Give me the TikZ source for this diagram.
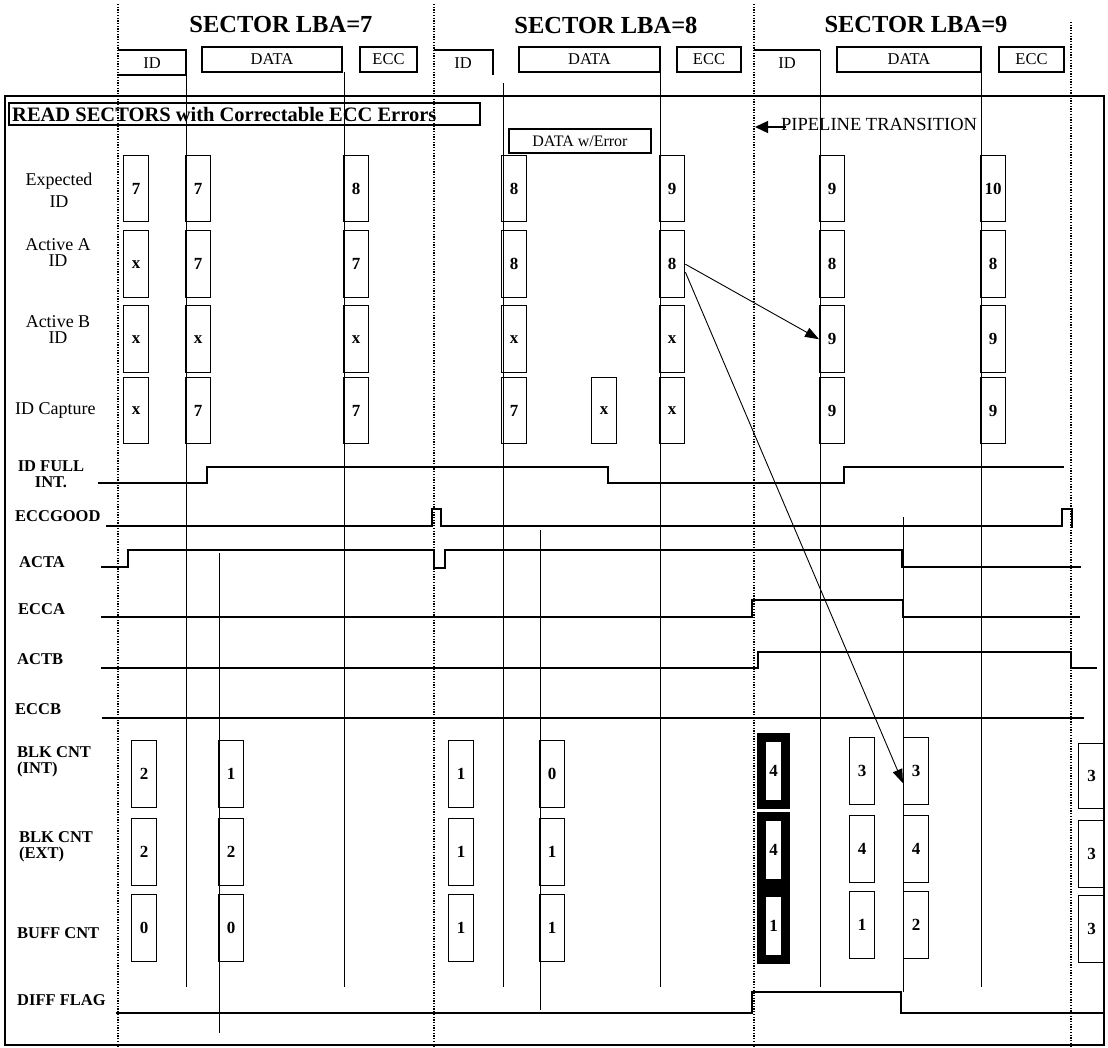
\documentclass[tikz,border=0pt]{standalone}
\usepackage{fontspec}
\setmainfont{Liberation Serif}
\usetikzlibrary{arrows.meta}
\begin{document}
\begin{tikzpicture}[x=1pt,y=-1pt,
  dotv/.style={line width=1.1pt, dash pattern=on 1.3pt off 1.4pt},
  vl/.style={line width=0.9pt},
  sig/.style={line width=1.4pt},
  sigthick/.style={line width=2.4pt},
  hdrbox/.style={line width=1.3pt},
  hdrtxt/.style={font=\fontsize{16.5}{16.5}\selectfont, inner sep=0pt},
  hdrrect/.style={draw, line width=1.3pt, minimum height=25pt, inner sep=0pt, font=\fontsize{16.5}{16.5}\selectfont},
  vbox/.style={draw, line width=1.4pt, minimum width=25pt, minimum height=66pt, inner sep=0pt, anchor=north west, font=\bfseries\fontsize{17}{17}\selectfont},
  hbox/.style={draw, line width=9pt, minimum width=24pt, minimum height=67pt, inner sep=0pt, anchor=center, font=\bfseries\fontsize{17}{17}\selectfont},
  lab/.style={font=\fontsize{18}{16}\selectfont, align=center, inner sep=0pt},
  blab/.style={font=\bfseries\fontsize{16.5}{16.5}\selectfont, align=left, inner sep=0pt, anchor=west},
  arr/.style={line width=0.9pt, -{Triangle[length=14pt,width=10pt]}}
]
\useasboundingbox (0,0) rectangle (1108,1047);

% frame
\draw[line width=1.5pt] (5,96) rectangle (1104,1045);

% sector boundaries (dotted)
\draw[dotv] (118,4) -- (118,1047);
\draw[dotv] (434,4) -- (434,1047);
\draw[dotv] (754,4) -- (754,1047);
\draw[dotv] (1071,22) -- (1071,1047);

% sector titles
\node[font=\bfseries\fontsize{24.5}{24.5}\selectfont, inner sep=0pt] (s7) at (281,25) {SECTOR LBA=7};
\node[font=\bfseries\fontsize{24.5}{24.5}\selectfont, inner sep=0pt] (s8) at (606,25) {SECTOR LBA=8};
\node[font=\bfseries\fontsize{24.5}{24.5}\selectfont, inner sep=0pt] (s9) at (916,25) {SECTOR LBA=9};

% header fields
\draw[hdrbox] (118,50) -- (186,50) -- (186,75) -- (118,75);
\node[hdrtxt] (hid7) at (152,63) {ID};
\node[hdrrect, minimum width=140pt] (hd7) at (272,59.5) {DATA};
\node[hdrrect, minimum width=57pt] (he7) at (388.5,59.5) {ECC};
\draw[hdrbox] (434,50) -- (493,50) -- (493,75);
\node[hdrtxt] (hid8) at (463,63) {ID};
\node[hdrrect, minimum width=141pt] (hd8) at (589.5,59.5) {DATA};
\node[hdrrect, minimum width=64pt] (he8) at (709,59.5) {ECC};
\draw[hdrbox] (754,50) -- (820,50);
\node[hdrtxt] (hid9) at (787,63) {ID};
\node[hdrrect, minimum width=144pt] (hd9) at (909,59.5) {DATA};
\node[hdrrect, minimum width=65pt] (he9) at (1031.5,59.5) {ECC};

% field boundary lines
\draw[vl] (186,50) -- (186,987);
\draw[vl] (219,553) -- (219,1033);
\draw[vl] (344,72) -- (344,987);
\draw[vl] (503,83) -- (503,987);
\draw[vl] (540,530) -- (540,1010);
\draw[vl] (660,72) -- (660,987);
\draw[vl] (820,50) -- (820,987);
\draw[vl] (903,517) -- (903,992);
\draw[vl] (981,72) -- (981,987);

% title
\draw[line width=1.9pt] (9,103) rectangle (480,125);
\node[anchor=west, inner sep=0pt, font=\bfseries\fontsize{20.5}{20.5}\selectfont] (title) at (12,114.5) {READ SECTORS with Correctable ECC Errors};

% DATA w/Error
\node[draw, line width=1.3pt, minimum width=142pt, minimum height=24pt, inner sep=0pt, font=\fontsize{16}{16}\selectfont] (dwe) at (580,141) {DATA w/Error};

% pipeline transition
\node[anchor=west, inner sep=0pt, font=\fontsize{18.5}{18.5}\selectfont] (pipe) at (781,124.5) {PIPELINE TRANSITION};
\coordinate (pipestart) at (786,127);
\coordinate (pipetip) at (755,127);
\draw[line width=1.4pt, -{Triangle[length=13pt,width=12pt]}] (pipestart) -- (pipetip);

% row labels
\node[lab, font=\fontsize{18}{22}\selectfont] (lExp) at (59,190) {Expected\\ID};
\node[lab] (lAA) at (58,253) {Active A\\ID};
\node[lab] (lAB) at (58,330) {Active B\\ID};
\node[lab, anchor=west] (lIC) at (15,410) {ID Capture};
\node[blab, align=center, anchor=center] (lIDF) at (51,474) {ID FULL\\INT.};
\node[blab] (lEG) at (15,516) {ECCGOOD};
\node[blab] (lACTA) at (19,562) {ACTA};
\node[blab] (lECCA) at (18,609) {ECCA};
\node[blab] (lACTB) at (17,659) {ACTB};
\node[blab] (lECCB) at (15,709) {ECCB};
\node[blab] (lBI) at (17,762) {BLK CNT\\(INT)};
\node[blab] (lBE) at (19,847) {BLK CNT\\(EXT)};
\node[blab] (lBU) at (17,933) {BUFF CNT};
\node[blab] (lDF) at (17,1000) {DIFF FLAG};

% ID value boxes
\foreach \n/\x/\v in {A/123/7, B/185/7, C/343/8, D/501/8, E/659/9, F/819/9, G/980/10}
  \node[vbox] (ex\n) at (\x,155) {\v};
\foreach \n/\x/\v in {A/123/x, B/185/7, C/343/7, D/501/8, E/659/8, F/819/8, G/980/8}
  \node[vbox, minimum height=67pt] (aa\n) at (\x,230) {\v};
\foreach \n/\x/\v in {A/123/x, B/185/x, C/343/x, D/501/x, E/659/x, F/819/9, G/980/9}
  \node[vbox, minimum height=67pt] (ab\n) at (\x,305) {\v};
\foreach \n/\x/\v in {A/123/x, B/185/7, C/343/7, D/501/7, X/591/x, E/659/x, F/819/9, G/980/9}
  \node[vbox] (ic\n) at (\x,377) {\v};

% signals
\draw[sig] (98,483) -- (207,483) -- (207,467) -- (608,467) -- (608,483) -- (844,483) -- (844,467) -- (1064,467);
\draw[sig] (106,526) -- (432,526) -- (432,509) -- (441,509) -- (441,526) -- (1062,526) -- (1062,509) -- (1072,509) -- (1072,528);
\draw[sig] (101,567) -- (128,567) -- (128,550) -- (434,550) -- (434,568) -- (445,568) -- (445,550) -- (902,550) -- (902,567) -- (1081,567);
\draw[sigthick] (101,567) -- (128,567);
\draw[sigthick] (434,550) -- (434,568) -- (445,568) -- (445,550);
\draw[sigthick] (902,567) -- (1081,567);
\draw[sig] (101,617) -- (752,617) -- (752,600) -- (903,600) -- (903,617) -- (1080,617);
\draw[sigthick] (752,600) -- (903,600);
\draw[sigthick] (903,617) -- (1080,617);
\draw[sig] (101,668) -- (758,668) -- (758,652) -- (1071,652) -- (1071,668) -- (1097,668);
\draw[sigthick] (758,652) -- (1071,652) -- (1071,668) -- (1097,668);
\draw[sig] (102,718) -- (1084,718);
\draw[sig] (116,1013) -- (752,1013) -- (752,992) -- (901,992) -- (901,1013) -- (1104,1013);

% block count boxes
\foreach \n/\x/\a/\b/\c in {1/131/2/2/0, 2/218/1/2/0, 3/448/1/1/1, 4/539/0/1/1}{
  \node[vbox, minimum height=67pt] (bi\n) at (\x,740) {\a};
  \node[vbox, minimum height=67pt] (be\n) at (\x,818) {\b};
  \node[vbox, minimum height=67pt] (bu\n) at (\x,894) {\c};
}
\foreach \n/\x/\a/\b/\c in {6/849/3/4/1, 7/903/3/4/2}{
  \node[vbox, minimum height=67pt] (bi\n) at (\x,737) {\a};
  \node[vbox, minimum height=67pt] (be\n) at (\x,815) {\b};
  \node[vbox, minimum height=67pt] (bu\n) at (\x,891) {\c};
}
\node[vbox, minimum height=65pt, minimum width=26pt] (bi8) at (1078,743) {3};
\node[vbox, minimum height=67pt, minimum width=26pt] (be8) at (1078,820) {3};
\node[vbox, minimum height=67pt, minimum width=26pt] (bu8) at (1078,895) {3};
\node[hbox] (bi5) at (773.5,771) {4};
\node[hbox] (be5) at (773.5,850) {4};
\node[hbox] (bu5) at (773.5,925.5) {1};

% arrows
\draw[arr] (aaE.east) -- (abF.west);
\draw[arr] ([yshift=-8pt]aaE.east) -- ([yshift=-12pt]bi7.west);
\end{tikzpicture}
\end{document}
